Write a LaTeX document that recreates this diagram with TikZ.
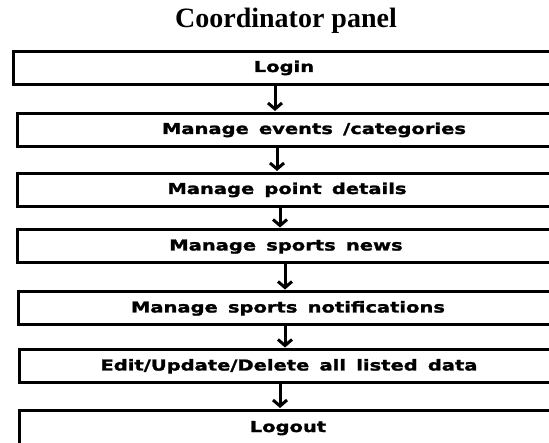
\documentclass[tikz,border=0pt]{standalone}
\usepackage{fontspec}
\usetikzlibrary{arrows.meta}
\newfontfamily\titlefont{Liberation Serif}
\newfontfamily\boxfont{DejaVu Sans Bold}[FakeStretch=1.3, FakeBold=1.6, WordSpace=1.5]
\tikzset{
  stepbox/.style={draw, line width=3pt, minimum height=33pt, inner sep=0pt,
    text height=11pt, text depth=3pt,
    font=\boxfont\fontsize{15}{18}\selectfont},
  flowarrow/.style={line width=3pt, -{Straight Barb[length=6pt,width=14pt]}, shorten >=1pt},
}
\begin{document}
\begin{tikzpicture}[x=1pt,y=-1pt]
\useasboundingbox (0,0) rectangle (549,443);
\clip (0,0) rectangle (549,443);
% heading
\node[font=\titlefont\bfseries\fontsize{28}{30}\selectfont] (title) at (286,21) {Coordinator panel};
% steps, top to bottom
\node[stepbox, minimum width=541pt] (login)  at (284,68)    {Login};
\node[stepbox, minimum width=593pt] (events) at (314,130)   {Manage events /categories};
\node[stepbox, minimum width=539pt] (point)  at (287,190)   {Manage point details};
\node[stepbox, minimum width=537pt] (news)   at (286,246.5) {Manage sports news};
\node[stepbox, minimum width=539pt] (notif)  at (288,308.5) {Manage sports notifications};
\node[stepbox, minimum width=540pt] (edit)   at (289,366.5) {Edit/Update/Delete all listed data};
\node[stepbox, minimum width=537pt, minimum height=35pt] (logout) at (288,428) {Logout};
% arrows between steps
\draw[flowarrow] ([xshift=-9pt]login.south)  -- ([xshift=-9pt]login.south |- events.north);
\draw[flowarrow] ([xshift=-37pt]events.south) -- ([xshift=-37pt]events.south |- point.north);
\draw[flowarrow] ([xshift=-7pt]point.south)  -- ([xshift=-7pt]point.south |- news.north);
\draw[flowarrow] ([xshift=-1pt]news.south)   -- ([xshift=-1pt]news.south |- notif.north);
\draw[flowarrow] ([xshift=-3pt]notif.south)  -- ([xshift=-3pt]notif.south |- edit.north);
\draw[flowarrow] ([xshift=-9pt]edit.south)   -- ([xshift=-9pt]edit.south |- logout.north);
\end{tikzpicture}
\end{document}
